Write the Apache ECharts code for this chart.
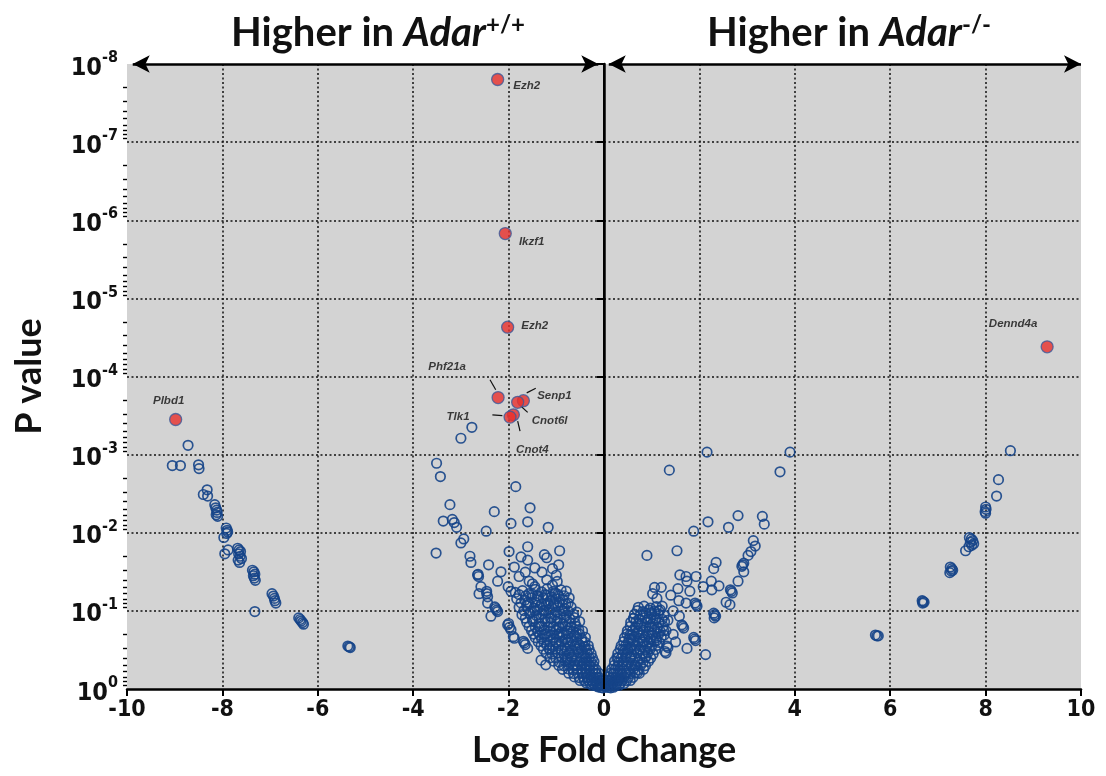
<!DOCTYPE html>
<html>
<head>
<meta charset="utf-8">
<script src="https://cdn.jsdelivr.net/npm/echarts@6/dist/echarts.min.js"></script>
<style>html,body{margin:0;padding:0;background:#fff}#c{width:1106px;height:776px}</style>
</head>
<body>
<div id="c"></div>
<script>
// ---------- DATA (logFC, P value) ----------
const xTicks = [-10, -8, -6, -4, -2, 0, 2, 4, 6, 8, 10];
const yDecades = [1e-8, 1e-7, 1e-6, 1e-5, 1e-4, 1e-3, 1e-2, 1e-1, 1];
const minorMantissas = [2, 3, 4, 5, 6, 7, 8, 9];

const farLeft = [
  [-8.72,7.6e-4],[-9.05,1.38e-3],[-8.88,1.38e-3],[-8.50,1.35e-3],[-8.49,1.51e-3],
  [-8.32,2.82e-3],[-8.40,3.24e-3],[-8.31,3.39e-3],
  [-8.16,4.37e-3],[-8.14,4.79e-3],[-8.12,5.13e-3],[-8.11,5.5e-3],[-8.13,5.89e-3],[-8.10,6.17e-3],
  [-7.92,8.7e-3],[-7.90,9.3e-3],[-7.89,9.8e-3],[-7.91,1.02e-2],[-7.97,1.15e-2],[-7.88,1.66e-2],[-7.95,1.86e-2],
  [-7.68,1.58e-2],[-7.65,1.66e-2],[-7.62,1.74e-2],[-7.66,1.86e-2],[-7.63,2.0e-2],[-7.60,2.14e-2],[-7.67,2.24e-2],[-7.64,2.4e-2],
  [-7.37,3.02e-2],[-7.34,3.16e-2],[-7.32,3.39e-2],[-7.35,3.55e-2],[-7.33,3.8e-2],[-7.31,4.07e-2],
  [-7.32,1.02e-1],
  [-6.96,6.03e-2],[-6.93,6.46e-2],[-6.91,6.92e-2],[-6.90,7.41e-2],[-6.88,7.94e-2],
  [-6.40,1.23e-1],[-6.37,1.29e-1],[-6.35,1.35e-1],[-6.32,1.41e-1],[-6.30,1.48e-1],
  [-5.37,2.82e-1],[-5.34,2.88e-1],[-5.32,2.95e-1]
];

const farRight = [
  [8.52,8.9e-4],[8.27,2.09e-3],[8.23,3.39e-3],
  [8.00,4.68e-3],[8.01,5.01e-3],[7.99,5.37e-3],[8.00,5.62e-3],
  [7.66,1.15e-2],[7.70,1.2e-2],[7.73,1.26e-2],[7.68,1.32e-2],[7.75,1.38e-2],[7.71,1.45e-2],[7.65,1.51e-2],
  [7.58,1.7e-2],
  [7.26,2.75e-2],[7.29,2.88e-2],[7.31,3.02e-2],[7.25,3.24e-2],[7.28,3.09e-2],
  [6.67,7.41e-2],[6.69,7.59e-2],[6.71,7.76e-2],[6.68,7.94e-2],
  [5.69,2.04e-1],[5.72,2.09e-1],[5.75,2.09e-1]
];

const centerLeftSparse = [
  [-3.51,1.29e-3],[-3.43,1.91e-3],[-2.77,4.47e-4],[-3.00,6.17e-4],[-1.85,2.57e-3],[-3.23,4.37e-3],
  [-2.30,5.37e-3],[-1.55,4.79e-3],[-3.37,7.08e-3],[-3.18,6.76e-3],[-3.14,7.41e-3],[-3.09,8.51e-3],
  [-1.60,7.24e-3],[-1.95,7.59e-3],[-1.17,8.51e-3],[-2.47,9.55e-3],[-2.94,1.2e-2],[-3.00,1.35e-2],
  [-3.52,1.82e-2],[-1.99,1.74e-2],[-1.60,1.51e-2],[-1.74,2.04e-2],[-1.60,2.24e-2],[-1.25,1.91e-2],
  [-1.20,2.09e-2],[-0.93,1.7e-2],[-0.95,2.57e-2],[-1.08,2.88e-2],[-1.45,2.82e-2],[-2.81,2.0e-2],
  [-2.79,2.4e-2],[-2.42,2.57e-2],[-1.88,2.75e-2],[-2.65,3.47e-2],[-2.63,3.63e-2],[-2.16,3.16e-2],
  [-2.23,4.17e-2],[-1.78,3.63e-2],[-1.57,4.17e-2],[-1.45,4.9e-2],[-1.08,4.68e-2],[-1.06,5.62e-2],
  [-2.58,4.9e-2],[-2.62,6.03e-2],[-2.46,5.62e-2],[-2.44,6.61e-2],[-2.01,4.9e-2],[-1.95,5.62e-2],
  [-2.44,7.94e-2],[-2.27,9.33e-2],[-2.23,1.02e-1],[-2.37,1.17e-1],[-2.02,1.51e-1],[-1.95,1.74e-1],
  [-1.88,2.24e-1],[-1.67,2.57e-1],[-1.60,3.02e-1],[-1.32,4.27e-1],[-1.22,4.9e-1],
  [-1.0,0.035],[-1.3,0.032],[-1.2,0.04],[-1.65,0.032],[-1.5,0.045],[-0.98,0.042],[-2.25,0.098],
  [-2.29,0.089],[-2.0,0.145],[-1.98,0.162],[-1.9,0.214],[-1.65,0.27],[-1.69,0.245],[-2.46,0.06],[-2.64,0.034]
];

const centerLeftDense = [
  [-1.86,0.058],[-1.71,0.055],[-1.57,0.060],[-1.44,0.053],[-1.31,0.057],[-1.19,0.052],[-1.03,0.059],[-0.9,0.054],[-0.79,0.056],
  [-1.83,0.07],[-1.66,0.073],[-1.52,0.068],[-1.39,0.072],[-1.27,0.069],[-1.13,0.074],[-1.01,0.07],[-0.86,0.072],[-0.73,0.068],
  [-1.78,0.09],[-1.62,0.086],[-1.47,0.092],[-1.34,0.088],[-1.21,0.085],[-1.09,0.091],[-0.96,0.087],[-0.83,0.093],[-0.69,0.089],
  [-1.72,0.112],[-1.56,0.108],[-1.42,0.115],[-1.29,0.11],[-1.16,0.106],[-1.03,0.113],[-0.91,0.109],[-0.79,0.114],[-0.64,0.11],[-0.57,0.104],
  [-1.62,0.14],[-1.49,0.136],[-1.36,0.145],[-1.23,0.138],[-1.11,0.142],[-0.99,0.135],[-0.86,0.147],[-0.73,0.139],[-0.61,0.143],[-0.51,0.137],
  [-1.52,0.178],[-1.39,0.184],[-1.26,0.175],[-1.13,0.182],[-1.01,0.176],[-0.89,0.186],[-0.77,0.179],[-0.65,0.183],[-0.53,0.174],[-0.45,0.181],
  [-1.44,0.22],[-1.31,0.226],[-1.19,0.215],[-1.06,0.224],[-0.93,0.218],[-0.81,0.229],[-0.69,0.221],[-0.57,0.216],[-0.47,0.227],[-0.39,0.219],
  [-1.32,0.28],[-1.2,0.274],[-1.07,0.285],[-0.94,0.277],[-0.82,0.288],[-0.71,0.279],[-0.61,0.283],[-0.51,0.275],[-0.41,0.286],[-0.33,0.278],
  [-1.21,0.35],[-1.09,0.356],[-0.97,0.345],[-0.84,0.358],[-0.73,0.348],[-0.63,0.354],[-0.53,0.343],[-0.43,0.357],[-0.35,0.349],[-0.27,0.353],
  [-1.06,0.44],[-0.94,0.452],[-0.81,0.445],[-0.71,0.456],[-0.61,0.441],[-0.51,0.449],[-0.43,0.455],[-0.35,0.443],[-0.27,0.451],[-0.21,0.446],
  [-0.87,0.56],[-0.75,0.552],[-0.65,0.566],[-0.56,0.557],[-0.47,0.563],[-0.39,0.554],[-0.31,0.568],[-0.23,0.559],[-0.17,0.562],
  [-0.62,0.7],[-0.52,0.715],[-0.43,0.705],[-0.35,0.718],[-0.28,0.702],[-0.21,0.712],[-0.15,0.708],[-0.1,0.716],
  [-0.37,0.84],[-0.29,0.856],[-0.22,0.848],[-0.15,0.858],[-0.1,0.845],[-0.05,0.852],
  [-0.13,0.94],[-0.07,0.955],[-0.03,0.965],
  [-0.95,0.2],[-0.75,0.25],[-0.55,0.31],[-0.38,0.4],[-0.3,0.5],[-0.45,0.62],[-0.18,0.63],[-0.26,0.78],[-0.08,0.78],
  [-0.6,0.5],[-0.68,0.39],[-0.88,0.32],[-1.0,0.25],[-1.15,0.3],[-0.78,0.42],[-1.25,0.2],[-1.35,0.16],[-1.12,0.125],
  [-0.95,0.16],[-0.7,0.16],[-0.58,0.19],[-1.45,0.1],[-1.25,0.098],[-1.05,0.08],[-0.85,0.1],[-0.75,0.08],[-1.6,0.078],
  [-1.4,0.064],[-1.2,0.063],[-0.95,0.064]
];

const centerLeftCore = [
  [-1.78,0.062],[-1.64,0.064],[-1.5,0.061],[-1.37,0.065],[-1.24,0.062],[-1.1,0.066],[-0.97,0.061],[-0.84,0.064],
  [-1.74,0.079],[-1.58,0.082],[-1.44,0.078],[-1.31,0.081],[-1.18,0.079],[-1.06,0.083],[-0.93,0.078],[-0.8,0.081],
  [-1.68,0.099],[-1.54,0.102],[-1.4,0.098],[-1.27,0.101],[-1.14,0.097],[-1.0,0.103],[-0.88,0.099],[-0.75,0.101],
  [-1.65,0.124],[-1.5,0.127],[-1.36,0.122],[-1.24,0.126],[-1.1,0.123],[-0.97,0.128],[-0.84,0.124],[-0.72,0.126],[-0.62,0.122],
  [-1.57,0.158],[-1.44,0.162],[-1.31,0.157],[-1.18,0.161],[-1.06,0.159],[-0.93,0.163],[-0.81,0.157],[-0.69,0.161],[-0.58,0.158],
  [-1.48,0.198],[-1.35,0.202],[-1.22,0.197],[-1.1,0.203],[-0.98,0.199],[-0.86,0.201],[-0.74,0.196],[-0.62,0.204],[-0.51,0.199],
  [-1.38,0.248],[-1.26,0.252],[-1.13,0.247],[-1.01,0.253],[-0.89,0.249],[-0.78,0.251],[-0.67,0.246],[-0.56,0.254],[-0.45,0.248],[-0.4,0.252],
  [-1.27,0.31],[-1.14,0.314],[-1.01,0.308],[-0.9,0.313],[-0.78,0.309],[-0.67,0.315],[-0.57,0.307],[-0.47,0.312],[-0.38,0.309],[-0.31,0.314],
  [-1.13,0.398],[-1.01,0.403],[-0.89,0.396],[-0.77,0.402],[-0.67,0.399],[-0.57,0.404],[-0.47,0.397],[-0.39,0.401],[-0.31,0.398],[-0.24,0.403],
  [-0.95,0.498],[-0.84,0.503],[-0.74,0.497],[-0.64,0.502],[-0.55,0.499],[-0.46,0.504],[-0.38,0.496],[-0.3,0.501],[-0.22,0.498],
  [-0.74,0.628],[-0.64,0.633],[-0.55,0.627],[-0.46,0.632],[-0.38,0.629],[-0.3,0.634],[-0.23,0.626],[-0.16,0.631],[-0.11,0.628],
  [-0.5,0.778],[-0.41,0.783],[-0.33,0.776],[-0.25,0.782],[-0.18,0.779],[-0.12,0.784],[-0.07,0.777],
  [-0.25,0.898],[-0.18,0.903],[-0.11,0.897],[-0.05,0.902]
];

const centerRightSparse = [
  [2.16,9.3e-4],[3.90,9.3e-4],[1.37,1.58e-3],[3.69,1.66e-3],[2.81,6.03e-3],[2.18,7.24e-3],[2.61,8.51e-3],
  [3.32,6.17e-3],[3.36,7.76e-3],[1.88,9.55e-3],[3.13,1.26e-2],[3.17,1.48e-2],[3.08,1.74e-2],[3.02,1.95e-2],
  [1.53,1.7e-2],[0.90,1.95e-2],[2.91,2.57e-2],[2.93,2.45e-2],[2.89,2.69e-2],[2.93,3.16e-2],[2.35,2.4e-2],
  [2.30,2.88e-2],[1.59,3.47e-2],[1.72,3.63e-2],[1.74,4.17e-2],[1.93,3.63e-2],[1.06,5.01e-2],[1.02,6.03e-2],
  [1.11,6.92e-2],[1.22,8.71e-2],[1.57,7.41e-2],[1.72,7.94e-2],[2.08,4.9e-2],[2.25,4.17e-2],[2.26,5.37e-2],
  [2.41,4.79e-2],[2.81,4.17e-2],[2.67,5.62e-2],[2.65,5.37e-2],[2.69,5.89e-2],[2.56,7.76e-2],[2.64,8.32e-2],
  [1.93,8.32e-2],[1.91,7.94e-2],[1.95,8.71e-2],[2.32,1.12e-1],[2.30,1.07e-1],[2.34,1.17e-1],[2.31,1.23e-1],
  [0.99,1.05e-1],[0.92,1.29e-1],[1.34,1.32e-1],[1.58,1.17e-1],[1.65,1.58e-1],[1.63,1.51e-1],[1.67,1.66e-1],
  [1.90,2.29e-1],[1.88,2.19e-1],[1.92,2.4e-1],[1.74,3.02e-1],[2.13,3.63e-1],[1.34,2.95e-1],[1.32,2.82e-1],
  [1.30,3.47e-1],[1.28,3.31e-1],[0.71,1.48e-1],[0.57,2.34e-1],[0.50,3.16e-1],
  [1.15,0.1],[1.4,0.063],[1.45,0.1],[1.25,0.178],[1.45,0.2],[1.1,0.24],[1.5,0.25],[1.2,0.05],[1.8,0.056],[1.55,0.052]
];

const centerRightDense = [
  [0.72,0.09],[0.84,0.087],[0.97,0.092],[1.1,0.088],
  [0.64,0.11],[0.76,0.113],[0.88,0.107],[1.0,0.112],[1.14,0.109],[1.26,0.114],
  [0.56,0.14],[0.67,0.137],[0.79,0.144],[0.9,0.139],[1.02,0.146],[1.15,0.141],[1.27,0.138],
  [0.49,0.18],[0.6,0.176],[0.71,0.184],[0.82,0.178],[0.94,0.185],[1.05,0.177],[1.18,0.183],[1.3,0.179],
  [0.43,0.22],[0.53,0.226],[0.64,0.215],[0.75,0.224],[0.86,0.218],[0.97,0.228],[1.09,0.221],[1.2,0.217],
  [0.36,0.28],[0.46,0.274],[0.56,0.286],[0.67,0.277],[0.78,0.287],[0.89,0.279],[1.0,0.284],[1.12,0.276],
  [0.29,0.35],[0.39,0.356],[0.49,0.345],[0.59,0.358],[0.7,0.347],[0.81,0.354],[0.92,0.344],[1.03,0.357],
  [0.22,0.44],[0.31,0.452],[0.41,0.445],[0.51,0.456],[0.61,0.441],[0.71,0.449],[0.82,0.455],[0.93,0.443],
  [0.16,0.56],[0.24,0.552],[0.33,0.566],[0.42,0.557],[0.52,0.563],[0.62,0.554],[0.72,0.568],[0.83,0.559],
  [0.1,0.7],[0.17,0.715],[0.25,0.705],[0.33,0.718],[0.42,0.702],[0.51,0.712],[0.61,0.708],
  [0.05,0.84],[0.11,0.856],[0.18,0.848],[0.26,0.858],[0.34,0.845],[0.42,0.852],
  [0.03,0.94],[0.08,0.955],[0.14,0.965],[0.2,0.95],
  [0.55,0.2],[0.8,0.25],[0.4,0.31],[0.3,0.4],[0.65,0.5],[0.2,0.62],[0.47,0.63],[0.3,0.78],[0.75,0.32],
  [0.95,0.16],[0.62,0.125],[1.08,0.13],[0.88,0.38],[0.56,0.39],[0.7,0.62],[0.12,0.78]
];

const centerRightCore = [
  [0.7,0.099],[0.82,0.102],[0.94,0.098],[1.06,0.101],[1.18,0.097],
  [0.62,0.124],[0.74,0.127],[0.86,0.122],[0.98,0.126],[1.1,0.123],[1.22,0.128],
  [0.55,0.158],[0.66,0.162],[0.77,0.157],[0.88,0.161],[1.0,0.159],[1.12,0.163],[1.24,0.157],
  [0.48,0.198],[0.59,0.202],[0.7,0.197],[0.81,0.203],[0.92,0.199],[1.03,0.201],[1.15,0.196],[1.26,0.204],
  [0.41,0.248],[0.51,0.252],[0.61,0.247],[0.72,0.253],[0.83,0.249],[0.94,0.251],[1.05,0.246],[1.16,0.254],
  [0.34,0.31],[0.44,0.314],[0.54,0.308],[0.64,0.313],[0.75,0.309],[0.86,0.315],[0.97,0.307],[1.08,0.312],
  [0.27,0.398],[0.36,0.403],[0.45,0.396],[0.55,0.402],[0.65,0.399],[0.76,0.404],[0.87,0.397],[0.98,0.401],
  [0.21,0.498],[0.29,0.503],[0.38,0.497],[0.47,0.502],[0.57,0.499],[0.67,0.504],[0.77,0.496],[0.87,0.501],
  [0.14,0.628],[0.21,0.633],[0.29,0.627],[0.37,0.632],[0.46,0.629],[0.55,0.634],[0.65,0.626],[0.74,0.631],
  [0.08,0.778],[0.15,0.783],[0.22,0.776],[0.3,0.782],[0.38,0.779],[0.47,0.784],[0.55,0.777],
  [0.04,0.898],[0.1,0.903],[0.17,0.897],[0.25,0.902],[0.32,0.899]
];

const geneNames = ['Ezh2', 'Ikzf1', 'Ezh2', 'Phf21a', 'Senp1', 'Cnot6l', 'Cnot4', 'Tlk1', 'Plbd1', 'Dennd4a'];
const geneLogFC = [-2.23, -2.07, -2.02, -2.22, -1.69, -1.81, -1.90, -1.97, -8.98, 9.29];
const geneP = [1.58e-8, 1.48e-6, 2.34e-5, 1.86e-4, 2.04e-4, 2.14e-4, 3.09e-4, 3.31e-4, 3.55e-4, 4.17e-5];

// leader lines from label to gene point: [x1, p1, x2, p2]
const leaderLines = [
  [-2.39, 1.10e-4, -2.27, 1.48e-4],
  [-1.62, 1.62e-4, -1.43, 1.41e-4],
  [-1.74, 2.40e-4, -1.60, 2.88e-4],
  [-1.81, 3.72e-4, -1.76, 5.01e-4],
  [-2.34, 3.09e-4, -2.13, 3.16e-4]
];

// ---------- STYLE ----------
const labelOffsets = [[4,6],[2,8],[2,-1],[-51,-31],[31,-5],[32,19],[19,35],[-52,0],[-7,-19],[-34,-23]];
const labelPos = ['right','right','right','inside','inside','inside','inside','inside','inside','inside'];
const FONT = 'Lato, "Open Sans", sans-serif';
const NUMFONT = '"DejaVu Sans Condensed", "DejaVu Sans", sans-serif';
const ringStyle = {color: 'rgba(0,0,0,0)', borderColor: '#154488', borderWidth: 1.7, opacity: 0.9};

const minorTickValues = [];
for (let i = 0; i < yDecades.length - 1; i++) {
  minorMantissas.forEach(m => minorTickValues.push(+(m * yDecades[i]).toPrecision(3)));
}

const chart = echarts.init(document.getElementById('c'), null, {renderer: 'canvas'});

function ringSeries(name, data) {
  return {
    name, type: 'scatter', data, symbol: 'circle', symbolSize: 9.5,
    itemStyle: ringStyle, silent: true, z: 3
  };
}

const geneData = geneNames.map((n, i) => ({
  name: n,
  value: [geneLogFC[i], geneP[i]],
  label: {
    show: true, formatter: n, position: labelPos[i], offset: labelOffsets[i],
    fontSize: 11.5, fontWeight: 'bold', fontStyle: 'italic', color: '#111',
    fontFamily: '"Liberation Sans", Arial, sans-serif'
  }
}));

const titleRich = {
  n: {fontSize: 40, fontWeight: 'bold', fontFamily: FONT, color: '#111'},
  i: {fontSize: 40, fontWeight: 'bold', fontStyle: 'italic', fontFamily: FONT, color: '#111'},
  s: {fontSize: 24, fontWeight: 'bold', fontFamily: FONT, color: '#111', verticalAlign: 'top', lineHeight: 38}
};

const option = {
  animation: false,
  backgroundColor: '#fff',
  title: [
    {text: '{n|Higher in }{i|Adar}{s|+/+}', left: 373, top: 8, textAlign: 'center', textStyle: {rich: titleRich}},
    {text: '{n|Higher in }{i|Adar}{s|-/-}', left: 844, top: 8, textAlign: 'center', textStyle: {rich: titleRich}}
  ],
  grid: {left: 127, right: 25, top: 64, bottom: 87, show: true, backgroundColor: '#d3d3d3', borderWidth: 0},
  xAxis: {
    type: 'value', min: -10, max: 10, interval: 2,
    name: 'Log Fold Change', nameLocation: 'middle', nameGap: 43,
    nameTextStyle: {fontSize: 36, fontWeight: 'bold', fontFamily: FONT, color: '#111'},
    axisLine: {show: true, onZero: false, lineStyle: {color: '#000', width: 2.5}},
    axisTick: {show: true, length: 7, lineStyle: {color: '#000', width: 2}},
    axisLabel: {fontSize: 23, fontWeight: 'bold', fontFamily: NUMFONT, color: '#111', margin: 10,
      customValues: xTicks},
    splitLine: {show: true, showMinLine: false, showMaxLine: false, lineStyle: {color: '#111', type: [2, 2.5], width: 1.5}}
  },
  yAxis: [
    {
      type: 'log', logBase: 10, min: 1e-8, max: 1, inverse: true,
      name: 'P value', nameLocation: 'middle', nameGap: 80, nameRotate: 90,
      nameTextStyle: {fontSize: 36, fontWeight: 'bold', fontFamily: FONT, color: '#111'},
      axisLine: {show: true, lineStyle: {color: '#000', width: 2.5}},
      axisTick: {show: true, length: 7, lineStyle: {color: '#000', width: 2}},
      axisLabel: {
        margin: 9,
        formatter: v => '{b|10}{s|' + Math.round(Math.log10(v)) + '}',
        rich: {
          b: {fontSize: 25, fontWeight: 'bold', fontFamily: NUMFONT, color: '#111', lineHeight: 28, padding: [8, 0, 0, 0]},
          s: {fontSize: 16, fontWeight: 'bold', fontFamily: NUMFONT, color: '#111', verticalAlign: 'top', lineHeight: 17}
        }
      },
      splitLine: {show: true, showMinLine: false, showMaxLine: false, lineStyle: {color: '#111', type: [2, 2.5], width: 1.5}}
    },
    {
      type: 'log', logBase: 10, min: 1e-8, max: 1, inverse: true, position: 'left',
      axisLine: {show: false},
      axisLabel: {show: false},
      splitLine: {show: false},
      axisTick: {show: true, length: 4, customValues: minorTickValues, lineStyle: {color: '#000', width: 1.4}}
    }
  ],
  series: [
    ringSeries('farLeft', farLeft),
    ringSeries('centerLeftSparse', centerLeftSparse),
    ringSeries('centerLeftDense', centerLeftDense),
    ringSeries('centerLeftCore', centerLeftCore),
    ringSeries('centerRightSparse', centerRightSparse),
    ringSeries('centerRightDense', centerRightDense),
    ringSeries('centerRightCore', centerRightCore),
    ringSeries('farRight', farRight),
    {
      name: 'genes', type: 'scatter', data: geneData, symbol: 'circle', symbolSize: 12, z: 5, silent: true,
      itemStyle: {color: '#e8302c', borderColor: '#3c5a9a', borderWidth: 1.3},
      markLine: {
        silent: true, symbol: ['none', 'none'], label: {show: false},
        lineStyle: {color: '#111', width: 1.2, type: 'solid'},
        data: leaderLines.map(l => [{coord: [l[0], l[1]]}, {coord: [l[2], l[3]]}])
      }
    },
    {
      name: 'guides', type: 'scatter', data: [], z: 6, silent: true,
      markLine: {
        silent: true, label: {show: false}, symbol: ['arrow', 'arrow'], symbolSize: [13, 17],
        lineStyle: {color: '#000', width: 2.5, type: 'solid'},
        data: [
          [{coord: [-9.88, 1e-8]}, {coord: [-0.12, 1e-8]}],
          [{coord: [0.1, 1e-8]}, {coord: [10, 1e-8]}],
          [{coord: [0, 1e-8], symbol: 'none'}, {coord: [0, 1], symbol: 'none', lineStyle: {width: 2}}]
        ]
      }
    }
  ]
};
chart.setOption(option);
</script>
</body>
</html>
